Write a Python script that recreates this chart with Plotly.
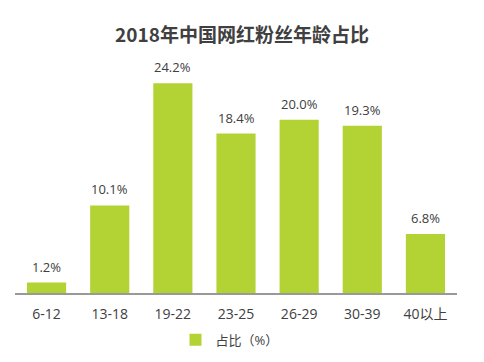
import plotly.graph_objects as go

categories = ["6-12", "13-18", "19-22", "23-25", "26-29", "30-39", "40以上"]
values = [1.2, 10.1, 24.2, 18.4, 20.0, 19.3, 6.8]
labels = [f"{v:.1f}%" for v in values]

font_fam = "Open Sans, Noto Sans CJK SC, sans-serif"

# page body has an 8px default margin, so the figure is sized to fit the window
W, H = 476, 354

fig = go.Figure(go.Bar(
    x=categories, y=values, name="占比（%）",
    marker=dict(color="#b3d335", line=dict(width=0)),
))

for c, v, t in zip(categories, values, labels):
    fig.add_annotation(x=c, y=v, text=t, showarrow=False, yanchor="bottom", yshift=5,
                       font=dict(size=13, color="#404040", family=font_fam))

fig.update_layout(
    width=W, height=H,
    margin=dict(l=7, r=27, t=51, b=69, autoexpand=False),
    paper_bgcolor="white", plot_bgcolor="white",
    title=dict(text="<b>2018年中国网红粉丝年龄占比</b>", x=(242 - 8) / W, xanchor="center",
               y=1 - 27 / H, yanchor="middle",
               font=dict(size=19, color="#404040", family="Noto Sans CJK SC, sans-serif")),
    bargap=0.38,
    showlegend=True,
    legend=dict(orientation="h", x=(239 - 8) / W, xanchor="center", y=-0.2, yanchor="middle",
                font=dict(size=13, color="#404040", family=font_fam)),
    xaxis=dict(showline=True, linecolor="#999999", linewidth=1.5, ticks="outside",
               ticklen=7, tickcolor="rgba(0,0,0,0)",
               tickfont=dict(size=14, color="#404040", family=font_fam), showgrid=False),
    yaxis=dict(range=[0, 27], visible=False, showgrid=False),
)

fig.write_html("out.html")
